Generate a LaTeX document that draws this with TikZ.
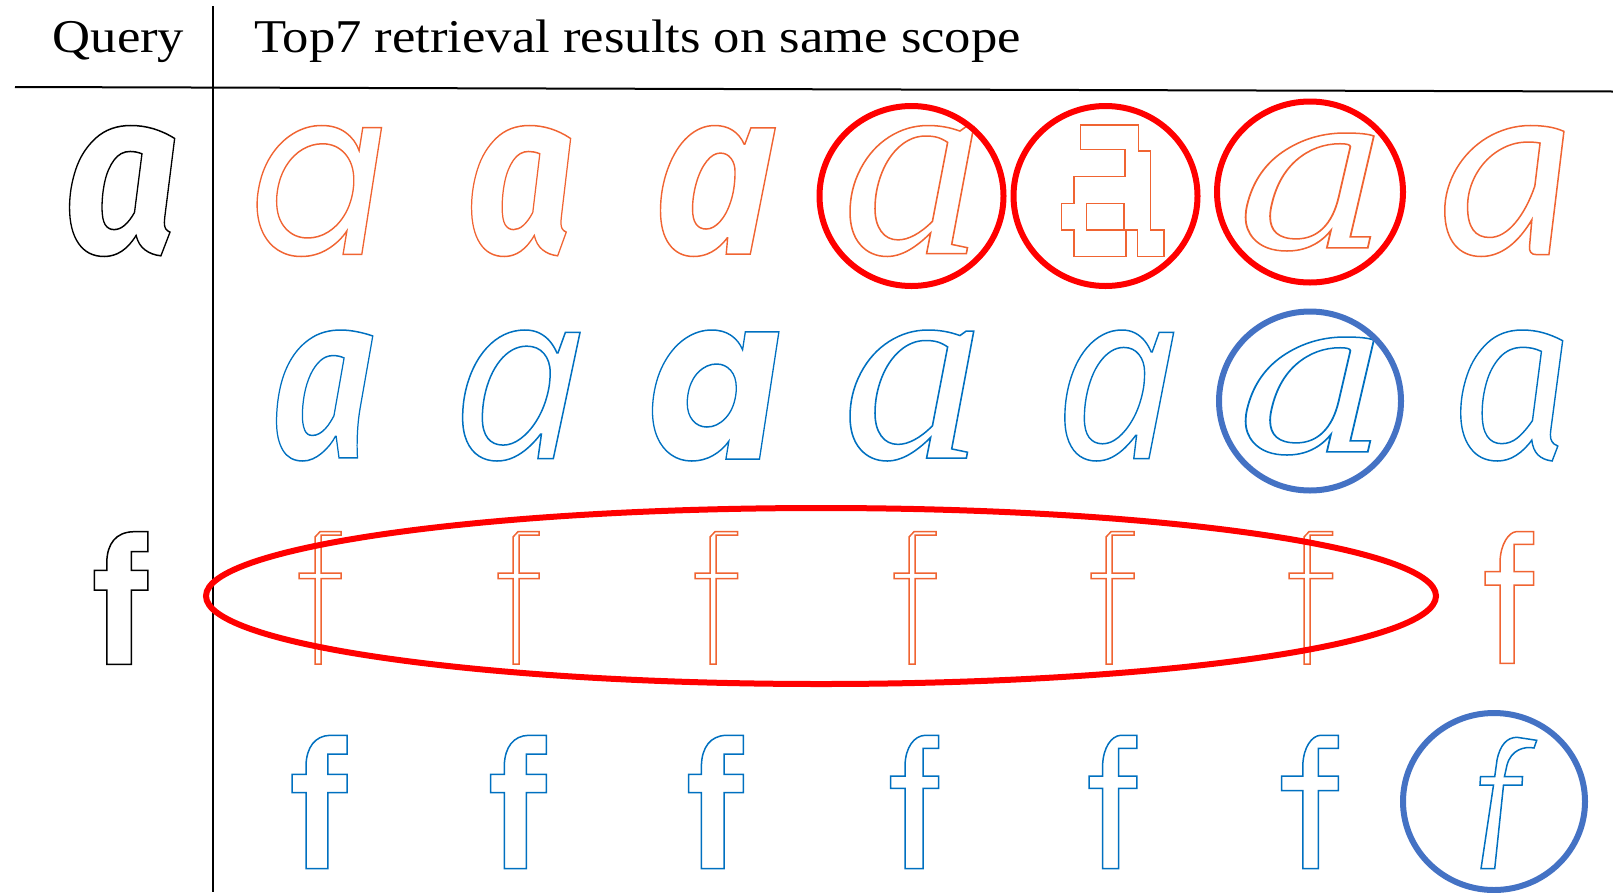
\documentclass[tikz,border=0pt]{standalone}
\usepackage{fontspec}
\setmainfont{Liberation Serif}
\newfontfamily\fqa{Fira Sans}
\newfontfamily\fpop{Poppins}
\newfontfamily\fopen{Open Sans}
\newfontfamily\fserif{Liberation Serif}
\newfontfamily\fdjs{DejaVu Serif}
\newfontfamily\fcarl{Carlito}
\newfontfamily\fpt{PT Sans}
\newfontfamily\fnoto{Noto Sans}
\definecolor{gorange}{RGB}{240,100,50}
\definecolor{gblue}{RGB}{0,112,192}
\definecolor{cred}{RGB}{255,0,0}
\definecolor{cblue}{RGB}{68,114,196}
% #1 font, #2 char, #3 ink height, #4 colour, #5 horizontal scale
\newcommand\olglyph[5]{%
  \setbox0\hbox{#1\fontsize{100pt}{100pt}\selectfont a}%
  \pgfmathsetmacro\gsz{100*#3/(\the\ht0+\the\dp0)}%
  \color{#4}\scalebox{#5}[1]{#1\fontsize{\gsz pt}{\gsz pt}\selectfont
  \special{pdf:literal direct 1 Tr 1.5 w}#2\special{pdf:literal direct 0 Tr}}}
% bold f: L SL SR R T hookb cbt cbb bot
\newcommand\boldf[9]{%
  (#2,#9) -- (#2,#8) -- (#1,#8) -- (#1,#7) -- (#2,#7) -- (#2,#5+30)
  .. controls (#2+0.5,#5+12) and (#2+9,#5+0.5) .. (#3+2,#5)
  -- (#4,#5) -- (#4,#6) -- (#3,#6) -- (#3,#7) -- (#4,#7) -- (#4,#8)
  -- (#3,#8) -- (#3,#9) -- cycle}
% thin f: SL L R
\newcommand\thinf[3]{%
  (#1,664) -- (#1,578.5) -- (#2,578.5) -- (#2,573) -- (#1,573) -- (#1,537)
  -- (#1+5,531.7) -- (#3,531.7) -- (#3,535) -- (#1+6,535) -- (#1+6,573)
  -- (#3,573) -- (#3,578.5) -- (#1+6,578.5) -- (#1+6,664) -- cycle}
\tikzset{
  glyph/.style={inner sep=0pt, outer sep=0pt},
  rule/.style={line width=2pt, black},
  hdr/.style={font=\fontsize{47pt}{50pt}\selectfont, inner sep=0pt},
  gline/.style={line width=1.5pt, line join=miter},
  redring/.style={cred, line width=6pt},
  bluering/.style={cblue, line width=6pt}
}
\begin{document}
\begin{tikzpicture}[x=1pt,y=-1pt]
\useasboundingbox (0,0) rectangle (1613,892);
% header
\node[hdr, anchor=base] (query) at (118.5,52) {\scalebox{1.12}[1]{Query}};
\node[hdr, anchor=base west] (title) at (254,52) {\scalebox{1.12}[1]{Top7 retrieval results on same scope}};
\draw[rule] (15,87) -- (1613,91.5);
\draw[rule] (213,6) -- (213,892);
% query glyphs
\node[glyph] (qa) at (122,191) {\olglyph{\fqa\bfseries\itshape}{a}{131}{black}{0.87}};
\draw[gline, black] \boldf{94.3}{106.8}{131.4}{147.9}{531.7}{551.7}{570.3}{590}{664.3};
% row 1 (orange)
\node[glyph] (r1c1) at (319,191) {\olglyph{\fpop\itshape}{a}{131}{gorange}{0.88}};
\node[glyph] (r1c2) at (521,191) {\olglyph{\fqa\bfseries\itshape}{a}{131}{gorange}{0.82}};
\node[glyph] (r1c3) at (715,191) {\olglyph{\fopen\bfseries\itshape}{a}{131}{gorange}{0.93}};
\node[glyph] (r1c4) at (913,191) {\olglyph{\fserif\itshape}{a}{131}{gorange}{1.05}};
\draw[gline, gorange] (1080.7,125) -- (1138.3,125) -- (1138.3,151) -- (1150.7,151)
  -- (1150.7,230) -- (1164,230) -- (1164,256.7) -- (1137.3,256.7) -- (1137.3,230)
  -- (1126,230) -- (1126,256.7) -- (1074,256.7) -- (1074,230) -- (1061.7,230)
  -- (1061.7,203.3) -- (1074,203.3) -- (1074,176.7) -- (1125,176.7) -- (1125,149.3)
  -- (1080.7,149.3) -- cycle;
\draw[gline, gorange] (1086.7,203.3) rectangle (1124,230);
\node[glyph] (r1c6) at (1314,192) {\olglyph{\fdjs\itshape}{a}{118}{gorange}{1.2}};
\node[glyph] (r1c7) at (1507,191) {\olglyph{\fcarl\itshape}{a}{131}{gorange}{1.0}};
% row 2 (blue)
\node[glyph] (r2c1) at (321,395.5) {\olglyph{\fpt\bfseries\itshape}{a}{131}{gblue}{0.82}};
\node[glyph] (r2c2) at (518,395.5) {\olglyph{\fopen\itshape}{a}{131}{gblue}{1.0}};
\node[glyph] (r2c3) at (715,395.5) {\olglyph{\fpop\bfseries\itshape}{a}{131}{gblue}{0.86}};
\node[glyph] (r2c4) at (913,395.5) {\olglyph{\fserif\itshape}{a}{131}{gblue}{1.05}};
\node[glyph] (r2c5) at (1116,395.5) {\olglyph{\fnoto\itshape}{a}{131}{gblue}{0.92}};
\node[glyph] (r2c6) at (1314,396) {\olglyph{\fdjs\itshape}{a}{118}{gblue}{1.2}};
\node[glyph] (r2c7) at (1512,395.5) {\olglyph{\fqa\itshape}{a}{131}{gblue}{0.92}};
% row 3 (orange f)
\draw[gline, gorange] \thinf{315}{299}{341};
\draw[gline, gorange] \thinf{513}{498}{539};
\draw[gline, gorange] \thinf{710}{695}{737.6};
\draw[gline, gorange] \thinf{909}{894}{936};
\draw[gline, gorange] \thinf{1106}{1091}{1134};
\draw[gline, gorange] \thinf{1304}{1289}{1332.5};
\draw[gline, gorange] \boldf{1485}{1500}{1514}{1533.5}{531.7}{544.3}{571.7}{585}{663.3};
% row 4 (blue f)
\draw[gline, gblue] \boldf{292}{306}{327.9}{347.1}{735.3}{754}{774.3}{792.7}{868.7};
\draw[gline, gblue] \boldf{490.7}{504.3}{526.4}{546.4}{735.3}{754}{774.3}{792.7}{868.7};
\draw[gline, gblue] \boldf{688.5}{701.4}{724}{743.4}{735.3}{754}{774.3}{792.7}{868.7};
\draw[gline, gblue] \boldf{890.7}{905}{923}{938.5}{735.3}{748.3}{776}{788.3}{868.7};
\draw[gline, gblue] \boldf{1089}{1102.6}{1118.7}{1136.8}{735.3}{748.3}{776}{788.3}{868.7};
\draw[gline, gblue] \boldf{1281.5}{1302.8}{1318.3}{1338.4}{735.3}{748.3}{776}{790.7}{868.7};
\draw[gline, gblue] (1481,868.7) -- (1493.5,785) -- (1480,785) -- (1480.5,776.7)
  -- (1494.7,776.7) -- (1497,760) .. controls (1500,745) and (1507,737.3) .. (1517,737.3)
  -- (1536.7,740.3) -- (1534,748) .. controls (1524,746) and (1511,750) .. (1507,765)
  -- (1504.4,776.7) -- (1522.5,776.7) -- (1522,785) -- (1503.5,785) -- (1494.7,868.7) -- cycle;
% highlight rings
\draw[redring] (911.5,196) ellipse [x radius=92pt, y radius=90pt];
\draw[redring] (1105.5,196) ellipse [x radius=92pt, y radius=90pt];
\draw[redring] (1310,192) ellipse [x radius=93pt, y radius=90.5pt];
\draw[bluering] (1310,401) ellipse [x radius=91pt, y radius=89.5pt];
\draw[redring] (821,596) ellipse [x radius=615pt, y radius=88pt];
\draw[bluering] (1494,801.5) ellipse [x radius=91pt, y radius=88.5pt];
\end{tikzpicture}
\end{document}
